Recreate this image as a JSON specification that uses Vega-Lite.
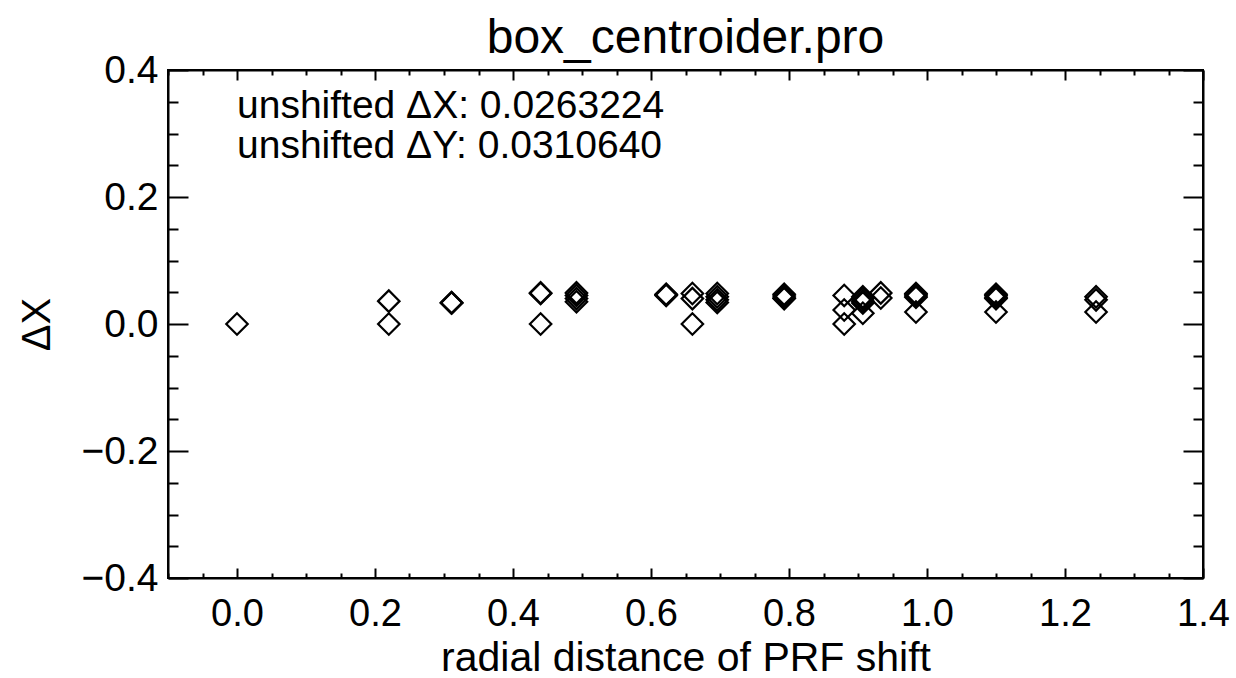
{
  "$schema": "https://vega.github.io/schema/vega-lite/v6.json",
  "width": 1035,
  "height": 508,
  "autosize": {"type": "none"},
  "padding": {"left": 168, "top": 70, "right": 33, "bottom": 100},
  "background": "white",
  "config": {
    "font": "Liberation Sans",
    "view": {"stroke": "black", "strokeWidth": 2},
    "axis": {"grid": false, "domainColor": "black", "domainWidth": 2, "tickColor": "black", "tickWidth": 2, "labelColor": "black", "titleColor": "black", "labelFont": "Liberation Sans", "titleFont": "Liberation Sans", "titleFontWeight": "normal"}
  },
  "title": {"text": "box_centroider.pro", "fontSize": 48, "fontWeight": "normal", "font": "Liberation Sans", "color": "black", "anchor": "middle", "offset": -12},
  "datasets": {
    "pts": [
      {"r": 0.0, "dx": 0.0},
      {"r": 0.22, "dx": 0.036},
      {"r": 0.22, "dx": 0.0},
      {"r": 0.311, "dx": 0.033},
      {"r": 0.311, "dx": 0.034},
      {"r": 0.311, "dx": 0.033},
      {"r": 0.44, "dx": 0.049},
      {"r": 0.44, "dx": 0.048},
      {"r": 0.44, "dx": 0.0},
      {"r": 0.492, "dx": 0.049},
      {"r": 0.492, "dx": 0.045},
      {"r": 0.492, "dx": 0.04},
      {"r": 0.492, "dx": 0.035},
      {"r": 0.622, "dx": 0.046},
      {"r": 0.622, "dx": 0.045},
      {"r": 0.622, "dx": 0.047},
      {"r": 0.66, "dx": 0.048},
      {"r": 0.66, "dx": 0.04},
      {"r": 0.66, "dx": 0.0},
      {"r": 0.696, "dx": 0.048},
      {"r": 0.696, "dx": 0.043},
      {"r": 0.696, "dx": 0.038},
      {"r": 0.696, "dx": 0.034},
      {"r": 0.793, "dx": 0.047},
      {"r": 0.793, "dx": 0.044},
      {"r": 0.793, "dx": 0.041},
      {"r": 0.793, "dx": 0.04},
      {"r": 0.88, "dx": 0.045},
      {"r": 0.88, "dx": 0.022},
      {"r": 0.88, "dx": 0.0},
      {"r": 0.907, "dx": 0.043},
      {"r": 0.907, "dx": 0.04},
      {"r": 0.907, "dx": 0.036},
      {"r": 0.907, "dx": 0.033},
      {"r": 0.907, "dx": 0.017},
      {"r": 0.933, "dx": 0.049},
      {"r": 0.933, "dx": 0.041},
      {"r": 0.984, "dx": 0.048},
      {"r": 0.984, "dx": 0.046},
      {"r": 0.984, "dx": 0.044},
      {"r": 0.984, "dx": 0.042},
      {"r": 0.984, "dx": 0.019},
      {"r": 1.1, "dx": 0.047},
      {"r": 1.1, "dx": 0.045},
      {"r": 1.1, "dx": 0.042},
      {"r": 1.1, "dx": 0.04},
      {"r": 1.1, "dx": 0.019},
      {"r": 1.245, "dx": 0.043},
      {"r": 1.245, "dx": 0.038},
      {"r": 1.245, "dx": 0.019}
    ],
    "notes": [
      {"r": 0.0, "dx": 0.343, "label": "unshifted ΔX: 0.0263224"},
      {"r": 0.0, "dx": 0.281, "label": "unshifted ΔY: 0.0310640"}
    ]
  },
  "layer": [
    {
      "data": {"name": "pts"},
      "mark": {"type": "point", "shape": "diamond", "filled": false, "size": 460, "stroke": "black", "strokeWidth": 2.2, "opacity": 1},
      "encoding": {
        "x": {"field": "r", "type": "quantitative", "scale": {"domain": [-0.1, 1.4], "nice": false, "zero": false},
          "axis": {"orient": "bottom", "title": "radial distance of PRF shift", "titleFontSize": 41, "titlePadding": 0, "labelFontSize": 38, "labelPadding": 27,
            "values": [-0.1,-0.05,0,0.05,0.1,0.15,0.2,0.25,0.3,0.35,0.4,0.45,0.5,0.55,0.6,0.65,0.7,0.75,0.8,0.85,0.9,0.95,1.0,1.05,1.1,1.15,1.2,1.25,1.3,1.35,1.4],
            "labelExpr": "abs(datum.value/0.2 - round(datum.value/0.2)) < 0.001 ? format(datum.value, '.1f') : ''",
            "tickSize": {"condition": {"test": "abs(datum.value/0.2 - round(datum.value/0.2)) < 0.001", "value": -10}, "value": -5},
            "labelFlush": false, "labelOverlap": false}},
        "y": {"field": "dx", "type": "quantitative", "scale": {"domain": [-0.4, 0.4], "nice": false, "zero": false},
          "axis": {"orient": "left", "title": "ΔX", "titleFontSize": 40, "titlePadding": 24, "labelFontSize": 39, "labelPadding": 30,
            "values": [-0.4,-0.35,-0.3,-0.25,-0.2,-0.15,-0.1,-0.05,0,0.05,0.1,0.15,0.2,0.25,0.3,0.35,0.4],
            "labelExpr": "abs(datum.value/0.2 - round(datum.value/0.2)) < 0.001 ? format(datum.value, '.1f') : ''",
            "tickSize": {"condition": {"test": "abs(datum.value/0.2 - round(datum.value/0.2)) < 0.001", "value": -20}, "value": -10},
            "labelFlush": false, "labelOverlap": false}}
      }
    },
    {
      "data": {"name": "notes"},
      "mark": {"type": "text", "align": "left", "baseline": "middle", "fontSize": 39, "color": "black", "font": "Liberation Sans"},
      "encoding": {
        "x": {"field": "r", "type": "quantitative",
          "axis": {"orient": "top", "title": null, "labels": false,
            "values": [-0.1,-0.05,0,0.05,0.1,0.15,0.2,0.25,0.3,0.35,0.4,0.45,0.5,0.55,0.6,0.65,0.7,0.75,0.8,0.85,0.9,0.95,1.0,1.05,1.1,1.15,1.2,1.25,1.3,1.35,1.4],
            "tickSize": {"condition": {"test": "abs(datum.value/0.2 - round(datum.value/0.2)) < 0.001", "value": -10}, "value": -5}}},
        "y": {"field": "dx", "type": "quantitative",
          "axis": {"orient": "right", "title": null, "labels": false,
            "values": [-0.4,-0.35,-0.3,-0.25,-0.2,-0.15,-0.1,-0.05,0,0.05,0.1,0.15,0.2,0.25,0.3,0.35,0.4],
            "tickSize": {"condition": {"test": "abs(datum.value/0.2 - round(datum.value/0.2)) < 0.001", "value": -20}, "value": -10}}},
        "text": {"field": "label"}
      }
    }
  ],
  "resolve": {"axis": {"x": "independent", "y": "independent"}}
}
